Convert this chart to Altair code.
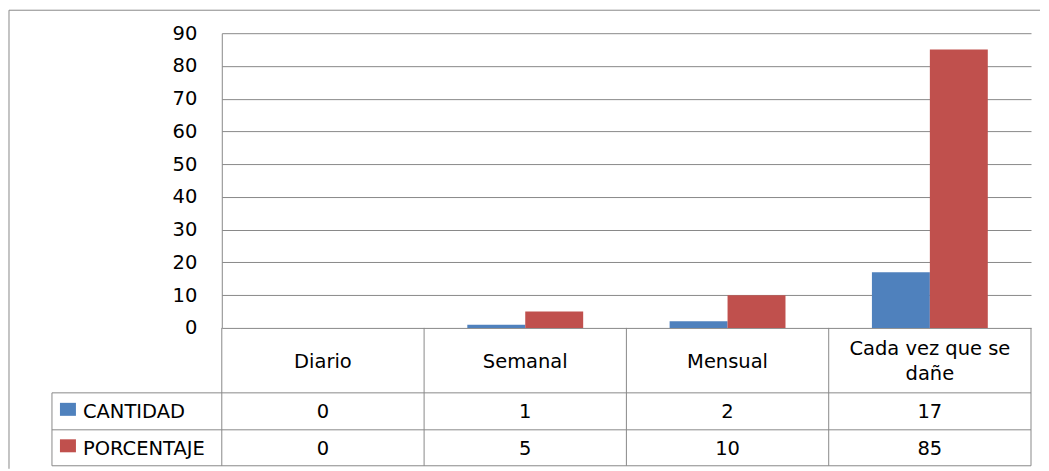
import altair as alt
import pandas as pd

categories = ["Diario", "Semanal", "Mensual", "Cada vez que se dañe"]
header_labels = ["Diario", "Semanal", "Mensual", "Cada vez que se\ndañe"]
series = ["CANTIDAD", "PORCENTAJE"]
cantidad = [0, 1, 2, 17]
porcentaje = [0, 5, 10, 85]
colors = ["#4F81BD", "#C0504D"]
y_ticks = [0, 10, 20, 30, 40, 50, 60, 70, 80, 90]

FONT = "DejaVu Sans"
FS = 19.5
GRAY = "#898989"
W, H = 810, 295
LINE_H = 25
# table row layout (pixels below the plot area)
ROW_TOP = [H, H + 65, H + 102]
ROW_BOTTOM = H + 138
ROW_CENTER = [H + 34, H + 84.5, H + 121]
LEG_LEFT = -170

long = pd.DataFrame({
    "cat": categories * 2,
    "series": [series[0]] * len(categories) + [series[1]] * len(categories),
    "value": cantidad + porcentaje,
})
cats = pd.DataFrame({"cat": categories, "label": header_labels})
cats["lines"] = cats["label"].str.count("\n") + 1
one = pd.DataFrame({"a": [0]})

xscale = alt.Scale(domain=categories, paddingInner=0, paddingOuter=0)
X = alt.X("cat:N", scale=xscale, axis=None)

bars = alt.Chart(long).mark_bar().encode(
    x=X,
    xOffset=alt.XOffset("series:N", scale=alt.Scale(domain=series, paddingInner=0, paddingOuter=0.746)),
    y=alt.Y("value:Q", scale=alt.Scale(domain=[0, 90], nice=False),
            axis=alt.Axis(values=y_ticks, title=None, grid=True, gridColor=GRAY,
                          gridOpacity=1, ticks=False, domainColor=GRAY, labelFont=FONT,
                          labelFontSize=FS, labelColor="#000", labelPadding=25)),
    color=alt.Color("series:N", scale=alt.Scale(domain=series, range=colors), legend=None),
)

layers = [bars]

# header labels (one-line and two-line, each block centred in the header row)
for n in sorted(cats["lines"].unique()):
    layers.append(alt.Chart(cats).transform_filter(alt.datum.lines == int(n)).mark_text(
        font=FONT, fontSize=FS, color="#000", lineBreak="\n", lineHeight=LINE_H,
        baseline="middle").encode(
        x=X, y=alt.value(ROW_CENTER[0] - (int(n) - 1) * LINE_H / 2), text="label:N"))

# values rows
for i, s in enumerate(series):
    layers.append(alt.Chart(long).transform_filter(alt.datum.series == s).mark_text(
        font=FONT, fontSize=FS, color="#000", baseline="middle").encode(
        x=X, y=alt.value(ROW_CENTER[i + 1]), text="value:Q"))
    # legend swatch
    yc = ROW_CENTER[i + 1] - 3
    layers.append(alt.Chart(one).mark_rect(color=colors[i]).encode(
        x=alt.value(LEG_LEFT + 8), x2=alt.value(LEG_LEFT + 24),
        y=alt.value(yc - 6.5), y2=alt.value(yc + 6.5)))
    layers.append(alt.Chart(one).mark_text(font=FONT, fontSize=FS, color="#000", align="left",
                                           baseline="middle", text=s).encode(
        x=alt.value(LEG_LEFT + 31), y=alt.value(ROW_CENTER[i + 1])))

# table vertical lines at category boundaries
layers.append(alt.Chart(cats).mark_rule(color=GRAY).encode(
    x=alt.X("cat:N", scale=xscale, axis=None, bandPosition=0),
    y=alt.value(H), y2=alt.value(ROW_BOTTOM)))
layers.append(alt.Chart(one).mark_rule(color=GRAY).encode(
    x=alt.value(W), y=alt.value(H), y2=alt.value(ROW_BOTTOM)))
layers.append(alt.Chart(one).mark_rule(color=GRAY).encode(
    x=alt.value(LEG_LEFT), y=alt.value(ROW_TOP[1]), y2=alt.value(ROW_BOTTOM)))
# table horizontal lines
for yy in [ROW_TOP[1], ROW_TOP[2], ROW_BOTTOM]:
    layers.append(alt.Chart(one).mark_rule(color=GRAY).encode(
        x=alt.value(LEG_LEFT), x2=alt.value(W), y=alt.value(yy)))

# outer chart-area border
layers.append(alt.Chart(one).mark_rule(color=GRAY).encode(
    x=alt.value(-213), y=alt.value(-23), y2=alt.value(436)))
layers.append(alt.Chart(one).mark_rule(color=GRAY).encode(
    x=alt.value(-213), x2=alt.value(819), y=alt.value(-23)))

chart = alt.layer(*layers).properties(
    width=W, height=H,
    padding={"left": 0, "top": 1, "right": 0, "bottom": 0},
).configure(background="white").configure_view(stroke="transparent", strokeWidth=0)

chart.save("out.html", embed_options={"renderer": "svg", "actions": False})
